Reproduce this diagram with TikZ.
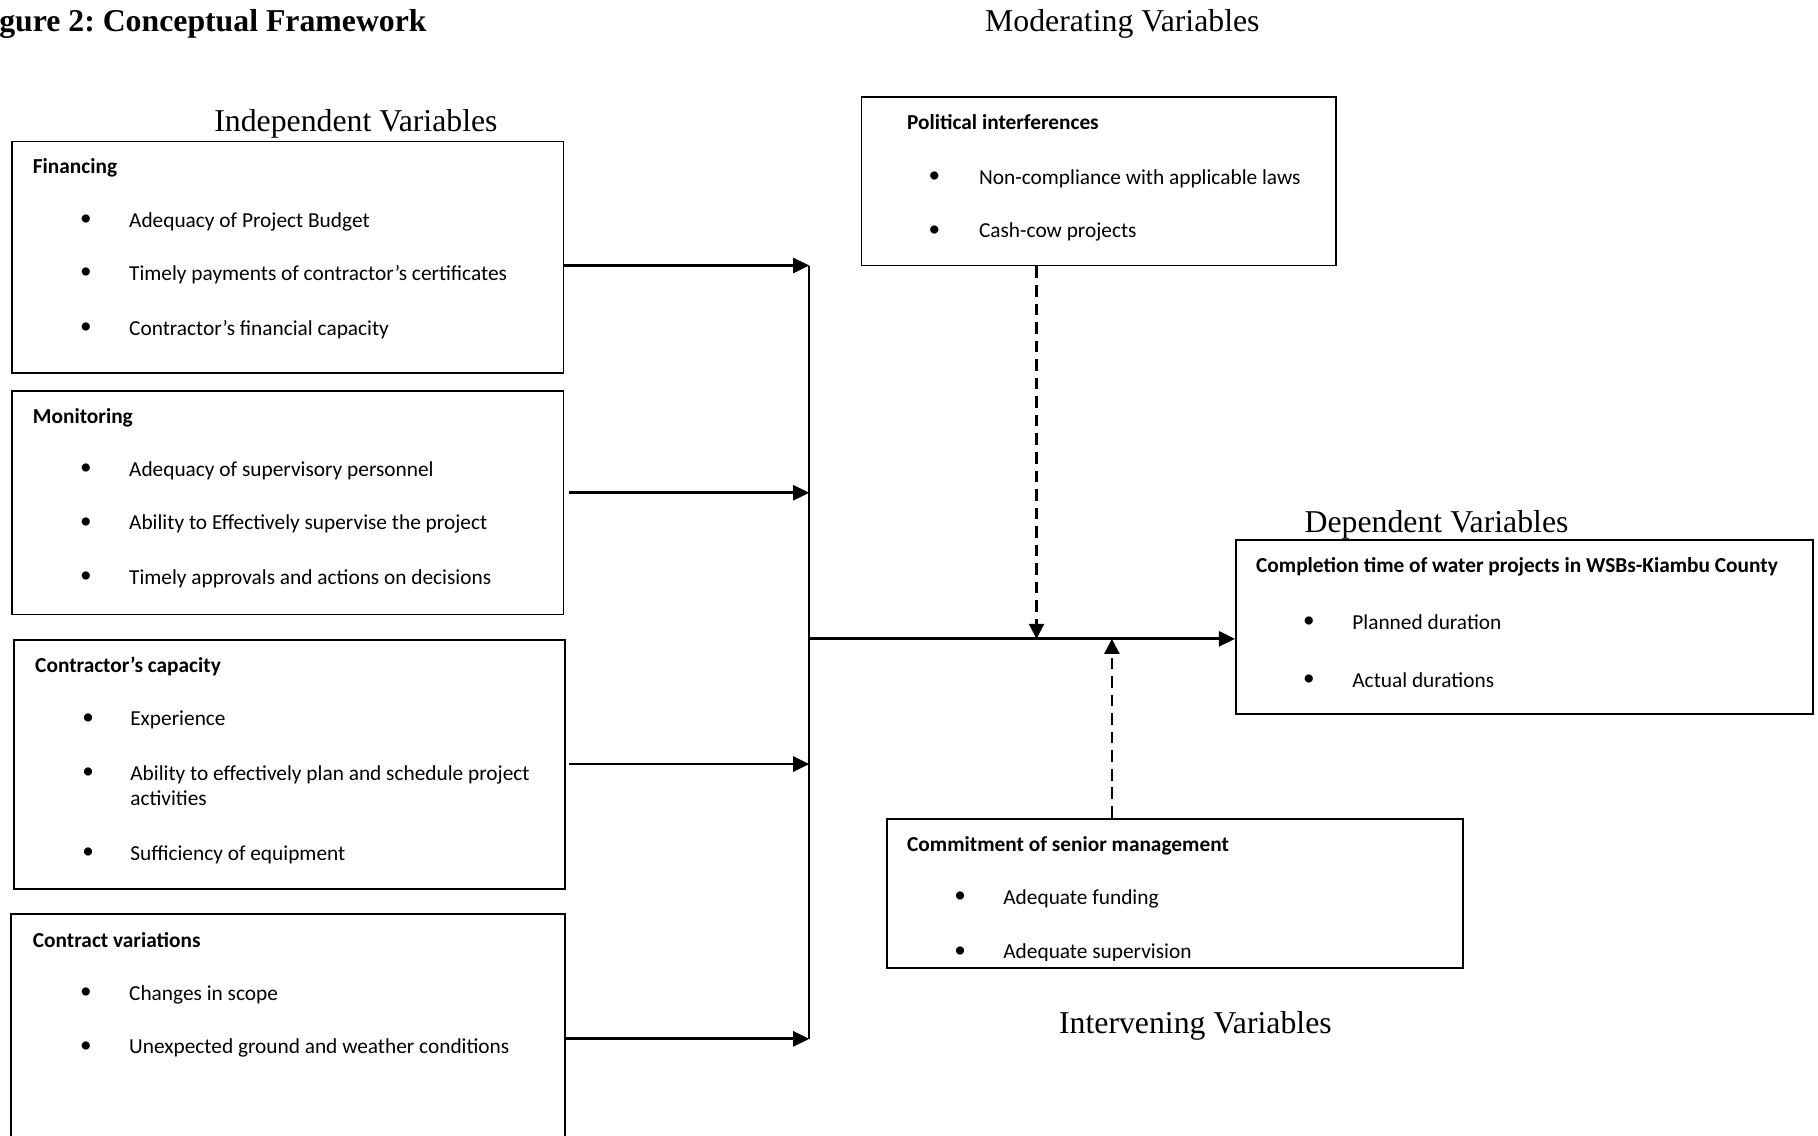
\documentclass[tikz,border=0pt]{standalone}
\usepackage{fontspec}
\setmainfont{Liberation Serif}
\newfontfamily\calfont{Carlito}
\usetikzlibrary{arrows.meta,fit}
\frenchspacing
\begin{document}
\begin{tikzpicture}[x=0.5pt,y=-0.5pt,
        varbox/.style={draw,line width=0.8pt,inner sep=0pt},
        vartitle/.style={anchor=base,inner sep=0pt,font=\fontsize{13.7}{16}\selectfont},
        boxhead/.style={anchor=base west,inner sep=0pt,font=\calfont\bfseries\fontsize{9.2}{11}\selectfont},
        itemtext/.style={anchor=base west,inner sep=0pt,font=\calfont\fontsize{9.2}{11}\selectfont},
        dot/.style={inner sep=0pt,font=\calfont\fontsize{10}{11}\selectfont},
        link/.style={line width=1.2pt,-{Triangle[length=7pt,width=6.5pt]}},
        joint/.style={line width=0.7pt},
        moder/.style={line width=1pt,dash pattern=on 5pt off 3pt,-{Triangle[length=6.5pt,width=6.5pt]}}]
    \useasboundingbox (0,0) rectangle (1568,979);
    % titles
    \node[anchor=base west,inner sep=0pt,font=\bfseries\fontsize{13.7}{16}\selectfont] (fig) at (-1,27) {gure 2: Conceptual Framework};
    \node[vartitle] (modtitle) at (968,27) {Moderating Variables};
    \node[vartitle] (indtitle) at (307,113) {Independent Variables};
    \node[vartitle] (deptitle) at (1239,459) {Dependent Variables};
    \node[vartitle] (inttitle) at (1031,891) {Intervening Variables};
    % independent variables
    \node[varbox,fit={(10,122) (486,322)}] (fin) {};
    \node[boxhead] (fin-h) at (28,150) {Financing};
    \node[dot] (fin-b1) at (74,190) {\textbullet};
    \node[itemtext] (fin-t1) at (111,196) {Adequacy of Project Budget};
    \node[dot] (fin-b2) at (74,236) {\textbullet};
    \node[itemtext] (fin-t2) at (111,242) {Timely payments of contractor’s certificates};
    \node[dot] (fin-b3) at (74,283) {\textbullet};
    \node[itemtext] (fin-t3) at (111,289) {Contractor’s financial capacity};

    \node[varbox,fit={(10,337) (486,530)}] (mon) {};
    \node[boxhead] (mon-h) at (28,365) {Monitoring};
    \node[dot] (mon-b1) at (74,405) {\textbullet};
    \node[itemtext] (mon-t1) at (111,411) {Adequacy of supervisory personnel};
    \node[dot] (mon-b2) at (74,451) {\textbullet};
    \node[itemtext] (mon-t2) at (111,457) {Ability to Effectively supervise the project};
    \node[dot] (mon-b3) at (74,498) {\textbullet};
    \node[itemtext] (mon-t3) at (111,504) {Timely approvals and actions on decisions};

    \node[varbox,fit={(12,552) (487,767)}] (cap) {};
    \node[boxhead] (cap-h) at (30,580) {Contractor’s capacity};
    \node[dot] (cap-b1) at (76,620) {\textbullet};
    \node[itemtext] (cap-t1) at (112,626) {Experience};
    \node[dot] (cap-b2) at (76,667) {\textbullet};
    \node[itemtext] (cap-t2) at (112,673) {Ability to effectively plan and schedule project};
    \node[itemtext] (cap-t2b) at (112,695) {activities};
    \node[dot] (cap-b3) at (76,736) {\textbullet};
    \node[itemtext] (cap-t3) at (112,742) {Sufficiency of equipment};

    \node[inner sep=0pt,fit={(10,789) (487,979)}] (cv) {};
    \draw[line width=0.8pt] (cv.south west) -- (cv.north west) -- (cv.north east) -- (cv.south east);
    \node[boxhead] (cv-h) at (28,817) {Contract variations};
    \node[dot] (cv-b1) at (74,857) {\textbullet};
    \node[itemtext] (cv-t1) at (111,863) {Changes in scope};
    \node[dot] (cv-b2) at (74,903) {\textbullet};
    \node[itemtext] (cv-t2) at (111,909) {Unexpected ground and weather conditions};
    % moderating variable
    \node[varbox,fit={(743,84) (1152,229)}] (pol) {};
    \node[boxhead] (pol-h) at (782,112) {Political interferences};
    \node[dot] (pol-b1) at (806,153) {\textbullet};
    \node[itemtext] (pol-t1) at (844,159) {Non-compliance with applicable laws};
    \node[dot] (pol-b2) at (806,199) {\textbullet};
    \node[itemtext] (pol-t2) at (844,205) {Cash-cow projects};
    % dependent variable
    \node[varbox,fit={(1066,466) (1564,616)}] (dep) {};
    \node[boxhead] (dep-h) at (1083,494) {Completion time of water projects in WSBs-Kiambu County};
    \node[dot] (dep-b1) at (1129,537) {\textbullet};
    \node[itemtext] (dep-t1) at (1166,543) {Planned duration};
    \node[dot] (dep-b2) at (1129,587) {\textbullet};
    \node[itemtext] (dep-t2) at (1166,593) {Actual durations};
    % intervening variable
    \node[varbox,fit={(765,706) (1262,835)}] (com) {};
    \node[boxhead] (com-h) at (782,734) {Commitment of senior management};
    \node[dot] (com-b1) at (828,774) {\textbullet};
    \node[itemtext] (com-t1) at (865,780) {Adequate funding};
    \begin{scope}
        \clip (765,706) rectangle (1262,828);
        \node[dot] (com-b2) at (828,821) {\textbullet};
        \node[itemtext] (com-t2) at (865,827) {Adequate supervision};
    \end{scope}
    % connectors
    \coordinate (j1) at (698,229);
    \coordinate (j2) at (698,425);
    \coordinate (j3) at (698,659);
    \coordinate (j4) at (698,896);
    \coordinate (jm) at (698,551);
    \coordinate (m1) at (894,551);
    \coordinate (m2) at (959,551);
    \draw[joint] (j1) -- (j4);
    \draw[link] (fin.east |- j1) -- (j1);
    \draw[link] ([xshift=2pt]mon.east |- j2) -- (j2);
    \draw[link] ([xshift=1.5pt]cap.east |- j3) -- (j3);
    \draw[link] (cv.east |- j4) -- (j4);
    \draw[link] (jm) -- (dep.west |- jm);
    \draw[moder] (pol.south -| m1) -- (m1);
    \draw[moder] (com.north -| m2) -- (m2);
\end{tikzpicture}
\end{document}
